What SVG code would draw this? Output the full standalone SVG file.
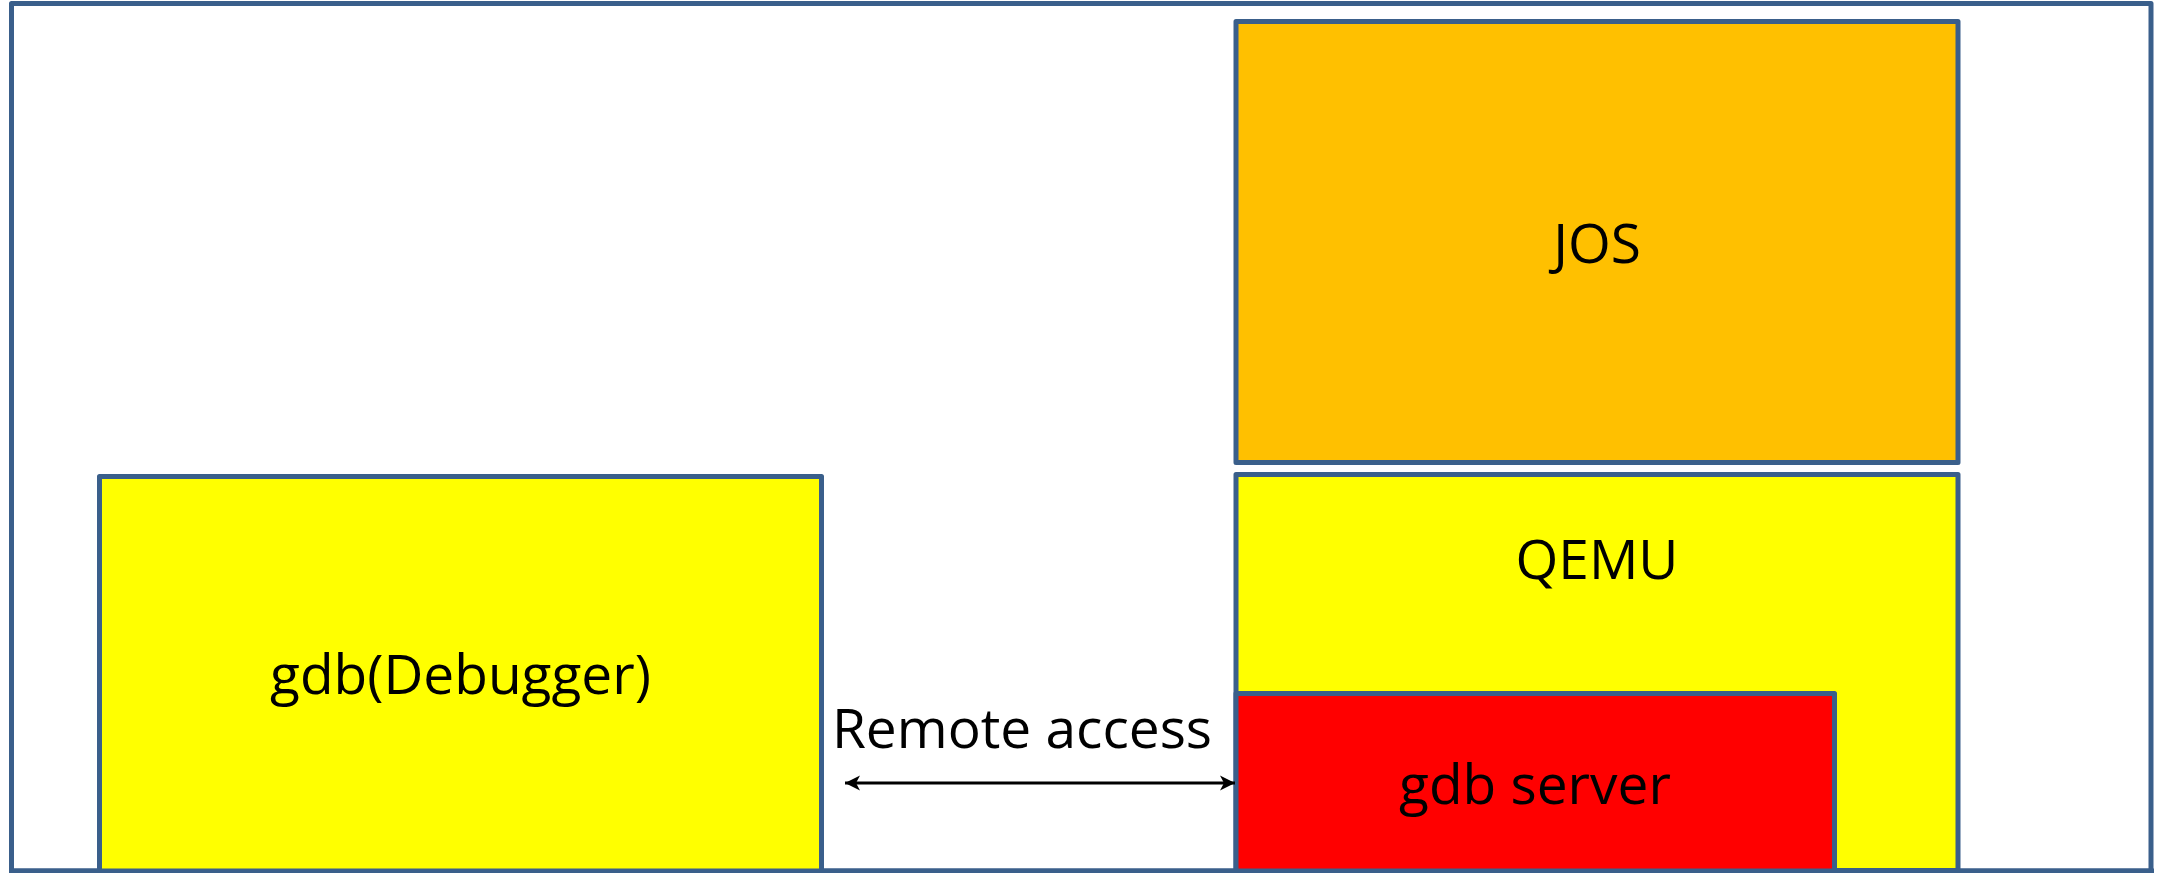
<svg xmlns="http://www.w3.org/2000/svg" width="2160" height="873" viewBox="0 0 2160 873">
  <style>
    .box { stroke: #3A5F8B; stroke-width: 5; stroke-linejoin: round; }
    .label { font-family: "Open Sans", "Liberation Sans", sans-serif; font-size: 55px; fill: #000000; text-anchor: middle; }
    .conn { stroke: #000000; stroke-width: 3; fill: none; }
  </style>
  <defs>
    <marker id="arrowHead" viewBox="-16 -8 17 16" refX="0" refY="0" markerWidth="17" markerHeight="16" markerUnits="userSpaceOnUse" orient="auto-start-reverse">
      <path d="M0,0 L-15,-7.5 L-11,0 L-15,7.5 Z" fill="#000000"/>
    </marker>
  </defs>

  <!-- outer frame -->
  <g id="frame">
    <rect class="box" x="11.5" y="3.5" width="2139.5" height="867.5" fill="#FFFFFF"/>
  </g>

  <!-- host debugger -->
  <g id="gdb-debugger">
    <rect class="box" x="99.5" y="476.5" width="722" height="400" fill="#FFFF00"/>
    <text class="label" x="460.5" y="694">gdb(Debugger)</text>
  </g>

  <!-- guest operating system -->
  <g id="jos">
    <rect class="box" x="1236" y="21.5" width="722" height="441" fill="#FFC000"/>
    <text class="label" x="1597" y="263">JOS</text>
  </g>

  <!-- emulator -->
  <g id="qemu">
    <rect class="box" x="1236" y="474.5" width="722" height="396" fill="#FFFF00"/>
    <text class="label" x="1597" y="579">QEMU</text>
  </g>

  <!-- stub inside the emulator -->
  <g id="gdb-server">
    <rect class="box" x="1236" y="693.5" width="598.5" height="183" fill="#FF0000"/>
    <text class="label" x="1535" y="804">gdb server</text>
  </g>

  <!-- redraw outer bottom edge over the clipped boxes -->
  <g id="frame-bottom">
    <line x1="9" y1="871" x2="2154" y2="871" stroke="#3A5F8B" stroke-width="5"/>
  </g>

  <g id="connectors">
    <line class="conn" x1="845" y1="783" x2="1235" y2="783" marker-start="url(#arrowHead)" marker-end="url(#arrowHead)"/>
    <text class="label" x="1022" y="748">Remote access</text>
  </g>
</svg>
